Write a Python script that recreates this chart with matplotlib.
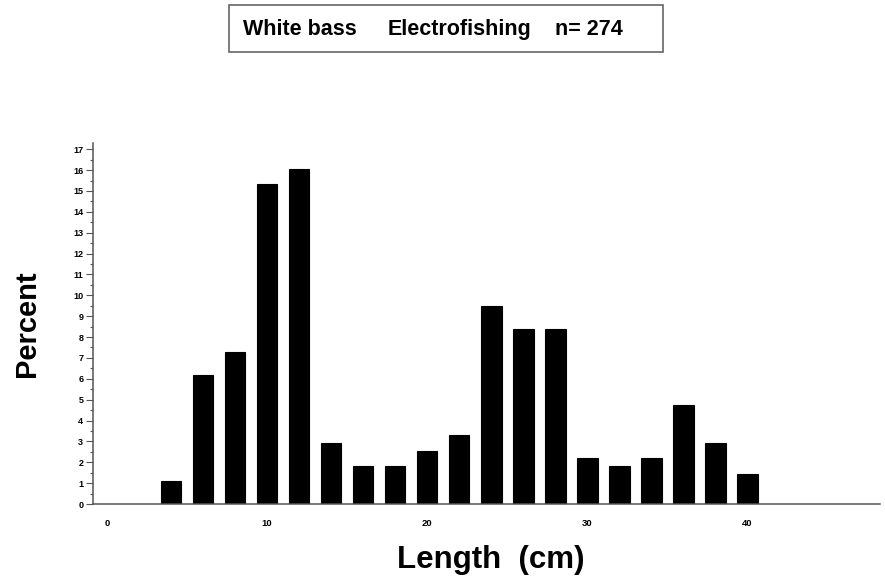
import matplotlib.pyplot as plt
from matplotlib.patches import Rectangle
from matplotlib.ticker import MultipleLocator

# Length classes (cm) and percent of fish in each class
lengths = [4, 6, 8, 10, 12, 14, 16, 18, 20, 22, 24, 26, 28, 30, 32, 34, 36, 38, 40]
counts = [3, 17, 20, 42, 44, 8, 5, 5, 7, 9, 26, 23, 23, 6, 5, 6, 13, 8, 4]
n_fish = 274
percent = [c / n_fish * 100 for c in counts]

x_ticks = [0, 10, 20, 30, 40]
y_ticks = list(range(0, 18))

plt.rcParams['font.family'] = ['Liberation Sans', 'DejaVu Sans']
plt.rcParams['font.weight'] = 'bold'

W, H = 885, 583
fig = plt.figure(figsize=(W / 100, H / 100), dpi=100)

# Axes placed from pixel positions of the reference
left, right, bottom, top = 93, 880, 504, 143
ax = fig.add_axes([left / W, 1 - bottom / H, (right - left) / W, (bottom - top) / H])

ax.bar(lengths, percent, width=1.3, color='black', edgecolor='black', linewidth=0.8)

ax.set_xlim(-0.875, 48.3)
ax.set_ylim(0, 17.3)

for side in ['top', 'right']:
    ax.spines[side].set_visible(False)
for side in ['left', 'bottom']:
    ax.spines[side].set_color('#555555')
    ax.spines[side].set_linewidth(1.1)

ax.set_yticks(y_ticks)
ax.yaxis.set_minor_locator(MultipleLocator(0.5))
ax.tick_params(axis='y', which='major', length=5, width=0.8, color='#555555',
               labelsize=6.5, pad=2)
ax.tick_params(axis='y', which='minor', length=2.5, width=0.8, color='#555555')

ax.set_xticks(x_ticks)
ax.tick_params(axis='x', which='both', length=0, labelsize=6.8, pad=11)

for lab in ax.get_xticklabels() + ax.get_yticklabels():
    lab.set_fontweight('bold')

# Axis titles
fig.text(27 / W, 1 - 324 / H, 'Percent', rotation=90, ha='center', va='center',
         fontsize=21, fontweight='bold')
fig.text(491 / W, 1 - 560 / H, 'Length  (cm)', ha='center', va='center',
         fontsize=22.5, fontweight='bold')

# Boxed header
box = Rectangle((229 / W, 1 - 52 / H), (663 - 229) / W, (52 - 5) / H,
                transform=fig.transFigure, fill=False, edgecolor='#666666', linewidth=1.2)
fig.patches.append(box)
header_parts = ['White bass', 'Electrofishing', f'n= {n_fish}']
header_x = [243, 388, 555]
for part, px in zip(header_parts, header_x):
    fig.text(px / W, 1 - 35 / H, part, ha='left', va='baseline',
             fontsize=15.5, fontweight='bold')

fig.savefig('out.png', dpi=100)
